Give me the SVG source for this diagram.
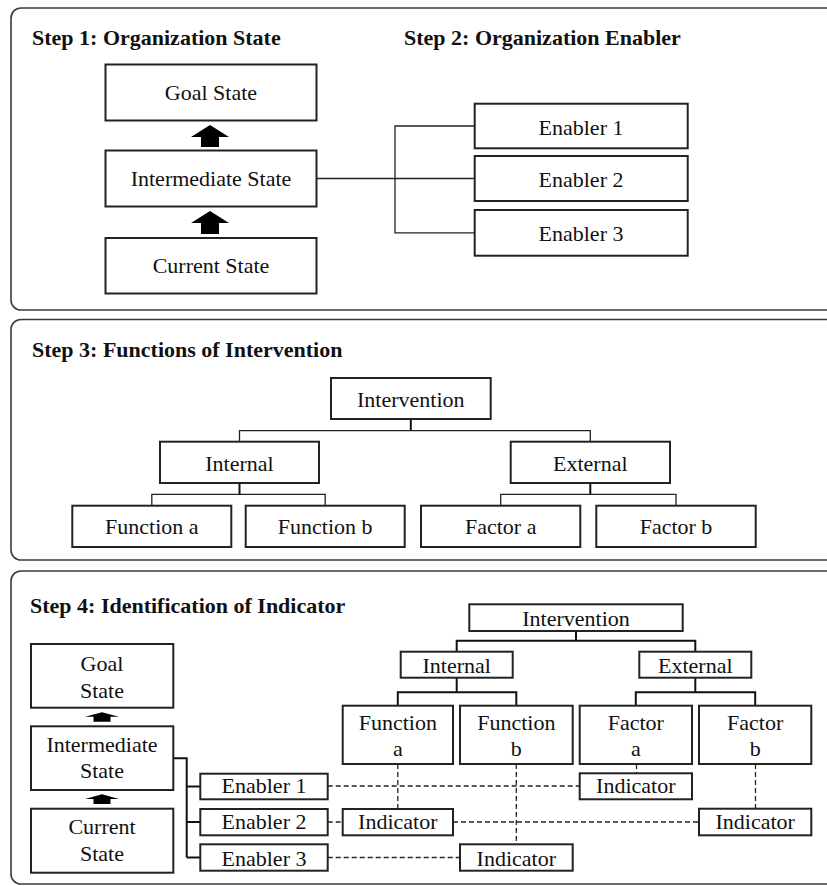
<svg xmlns="http://www.w3.org/2000/svg" width="827" height="886" viewBox="0 0 827 886">
<style>
.panel{fill:none;stroke:#3a3a3a;stroke-width:1.6}
.box{fill:#fff;stroke:#222;stroke-width:2}
.t{font-family:'Liberation Serif',serif;font-size:22px;fill:#111;text-anchor:middle}
.h{font-family:'Liberation Serif',serif;font-size:22px;font-weight:bold;fill:#111}
.ln{fill:none;stroke:#222;stroke-width:1.3}
.stem{fill:none;stroke:#111;stroke-width:2}
.dash{fill:none;stroke:#222;stroke-width:1.3;stroke-dasharray:5 3}
.arr{fill:#000}
</style>
<rect width="827" height="886" fill="#fff"/>
<g id="panels">
<rect class="panel" x="11" y="8" width="840" height="302" rx="10"/>
<rect class="panel" x="11" y="319.5" width="840" height="240.5" rx="10"/>
<rect class="panel" x="11" y="571" width="840" height="313" rx="10"/>
</g>
<g id="titles">
<text class="h" x="32" y="45">Step 1: Organization State</text>
<text class="h" x="404" y="45">Step 2: Organization Enabler</text>
<text class="h" x="32" y="357">Step 3: Functions of Intervention</text>
<text class="h" x="30" y="613">Step 4: Identification of Indicator</text>
</g>
<g id="connectors">
<polyline class="ln" points="317,178.5 474.7,178.5"/>
<polyline class="ln" points="474.7,126 395,126 395,232.8 474.7,232.8"/>
<polygon class="arr" points="210,125 229,137 219,137 219,147 201,147 201,137 191,137"/>
<polygon class="arr" points="210,211 229,223 219,223 219,234 201,234 201,223 191,223"/>
<line class="stem" x1="410.8" y1="419" x2="410.8" y2="430.7"/>
<polyline class="ln" points="239.5,441.7 239.5,430.7 590.3,430.7 590.3,441.7"/>
<line class="stem" x1="239.5" y1="483" x2="239.5" y2="494.3"/>
<polyline class="ln" points="151.8,505.7 151.8,494.3 325.2,494.3 325.2,505.7"/>
<line class="stem" x1="590.3" y1="483" x2="590.3" y2="494.3"/>
<polyline class="ln" points="500.7,505.7 500.7,494.3 676,494.3 676,505.7"/>
<polygon class="arr" points="102,712.3 119,716.7 110.5,716.7 110.5,721.7 93.5,721.7 93.5,716.7 85,716.7"/>
<polygon class="arr" points="102,794.3 119,799 110.5,799 110.5,804 93.5,804 93.5,799 85,799"/>
<polyline class="stem" points="173.3,758.3 186.7,758.3 186.7,857.5"/>
<line class="stem" x1="186.7" y1="786.5" x2="200.3" y2="786.5"/>
<line class="stem" x1="186.7" y1="822" x2="200.3" y2="822"/>
<line class="stem" x1="186.7" y1="857.5" x2="200.3" y2="857.5"/>
<line class="stem" x1="576" y1="631" x2="576" y2="640.7"/>
<polyline class="stem" points="456.7,651.7 456.7,640.7 695.3,640.7 695.3,651.7"/>
<line class="stem" x1="456.7" y1="677.7" x2="456.7" y2="692.3"/>
<polyline class="stem" points="397.8,705.7 397.8,692.3 516.3,692.3 516.3,705.7"/>
<line class="stem" x1="695.3" y1="677.7" x2="695.3" y2="692.3"/>
<polyline class="stem" points="635.8,705.7 635.8,692.3 755.2,692.3 755.2,705.7"/>
<line class="dash" x1="327.7" y1="786" x2="579.7" y2="786"/>
<line class="dash" x1="327.7" y1="822" x2="342.7" y2="822"/>
<line class="dash" x1="453" y1="822" x2="699" y2="822"/>
<line class="dash" x1="327.7" y1="857.5" x2="460" y2="857.5"/>
<line class="dash" x1="397.8" y1="764" x2="397.8" y2="809"/>
<line class="dash" x1="516.3" y1="764" x2="516.3" y2="844.3"/>
<line class="dash" x1="755.5" y1="764" x2="755.5" y2="808.7"/>
<line class="dash" x1="636.5" y1="764" x2="636.5" y2="773.3"/>
</g>
<g id="s1-goal"><rect class="box" x="105.5" y="64.5" width="211" height="56"/><text class="t" x="211" y="99.5">Goal State</text></g>
<g id="s1-intermediate"><rect class="box" x="105.5" y="150.5" width="211" height="56"/><text class="t" x="211" y="186">Intermediate State</text></g>
<g id="s1-current"><rect class="box" x="105.5" y="238" width="211" height="55.5"/><text class="t" x="211" y="273">Current State</text></g>
<g id="s2-enabler1"><rect class="box" x="474.7" y="103.7" width="213" height="44.6"/><text class="t" x="581" y="135">Enabler 1</text></g>
<g id="s2-enabler2"><rect class="box" x="474.7" y="156" width="213" height="45"/><text class="t" x="581" y="186.5">Enabler 2</text></g>
<g id="s2-enabler3"><rect class="box" x="474.7" y="210" width="213" height="45.7"/><text class="t" x="581" y="240.5">Enabler 3</text></g>
<g id="s3-intervention"><rect class="box" x="331" y="378" width="159.7" height="41"/><text class="t" x="410.8" y="406.7">Intervention</text></g>
<g id="s3-internal"><rect class="box" x="160" y="441.7" width="159" height="41.3"/><text class="t" x="239.5" y="470.7">Internal</text></g>
<g id="s3-external"><rect class="box" x="510.7" y="441.7" width="159.3" height="41.3"/><text class="t" x="590.3" y="470.7">External</text></g>
<g id="s3-function-a"><rect class="box" x="72.3" y="505.7" width="159" height="41.3"/><text class="t" x="151.8" y="534.3">Function a</text></g>
<g id="s3-function-b"><rect class="box" x="245.7" y="505.7" width="159" height="41.3"/><text class="t" x="325.2" y="534.3">Function b</text></g>
<g id="s3-factor-a"><rect class="box" x="421" y="505.7" width="159.3" height="41.3"/><text class="t" x="500.7" y="534.3">Factor a</text></g>
<g id="s3-factor-b"><rect class="box" x="596.3" y="505.7" width="159.4" height="41.3"/><text class="t" x="676" y="534.3">Factor b</text></g>
<g id="s4-goal"><rect class="box" x="31" y="644" width="142.3" height="63.7"/><text class="t" x="102" y="671">Goal</text><text class="t" x="102" y="697.7">State</text></g>
<g id="s4-intermediate"><rect class="box" x="31" y="726.3" width="142.3" height="63.7"/><text class="t" x="102" y="752.3">Intermediate</text><text class="t" x="102" y="778.3">State</text></g>
<g id="s4-current"><rect class="box" x="31" y="808.7" width="142.3" height="64"/><text class="t" x="102" y="834.3">Current</text><text class="t" x="102" y="861">State</text></g>
<g id="s4-enabler1"><rect class="box" x="200.3" y="773.7" width="127.4" height="25.6"/><text class="t" x="264" y="793.3">Enabler 1</text></g>
<g id="s4-enabler2"><rect class="box" x="200.3" y="809" width="127.4" height="26.3"/><text class="t" x="264" y="829.3">Enabler 2</text></g>
<g id="s4-enabler3"><rect class="box" x="200.3" y="844.3" width="127.4" height="26.4"/><text class="t" x="264" y="866">Enabler 3</text></g>
<g id="s4-intervention"><rect class="box" x="469.3" y="604.3" width="213.4" height="26.7"/><text class="t" x="576" y="625.7">Intervention</text></g>
<g id="s4-internal"><rect class="box" x="400.7" y="651.7" width="112" height="26"/><text class="t" x="456.7" y="673.3">Internal</text></g>
<g id="s4-external"><rect class="box" x="639.3" y="651.7" width="112" height="26"/><text class="t" x="695.3" y="673.3">External</text></g>
<g id="s4-function-a"><rect class="box" x="342.7" y="705.7" width="110.3" height="58.3"/><text class="t" x="397.8" y="730">Function</text><text class="t" x="397.8" y="755.7">a</text></g>
<g id="s4-function-b"><rect class="box" x="460" y="705.7" width="112.7" height="58.3"/><text class="t" x="516.3" y="730">Function</text><text class="t" x="516.3" y="755.7">b</text></g>
<g id="s4-factor-a"><rect class="box" x="579.7" y="705.7" width="112.3" height="58.3"/><text class="t" x="635.8" y="730">Factor</text><text class="t" x="635.8" y="755.7">a</text></g>
<g id="s4-factor-b"><rect class="box" x="699" y="705.7" width="112.3" height="58.3"/><text class="t" x="755.2" y="730">Factor</text><text class="t" x="755.2" y="755.7">b</text></g>
<g id="s4-indicator-factor-a"><rect class="box" x="579.7" y="773.3" width="112.3" height="26"/><text class="t" x="635.8" y="793.3">Indicator</text></g>
<g id="s4-indicator-function-a"><rect class="box" x="342.7" y="809" width="110.3" height="26.3"/><text class="t" x="397.8" y="829.3">Indicator</text></g>
<g id="s4-indicator-factor-b"><rect class="box" x="699" y="808.7" width="112.3" height="26.6"/><text class="t" x="755.2" y="829.3">Indicator</text></g>
<g id="s4-indicator-function-b"><rect class="box" x="460" y="844.3" width="112.7" height="26.4"/><text class="t" x="516.3" y="866">Indicator</text></g>
</svg>
